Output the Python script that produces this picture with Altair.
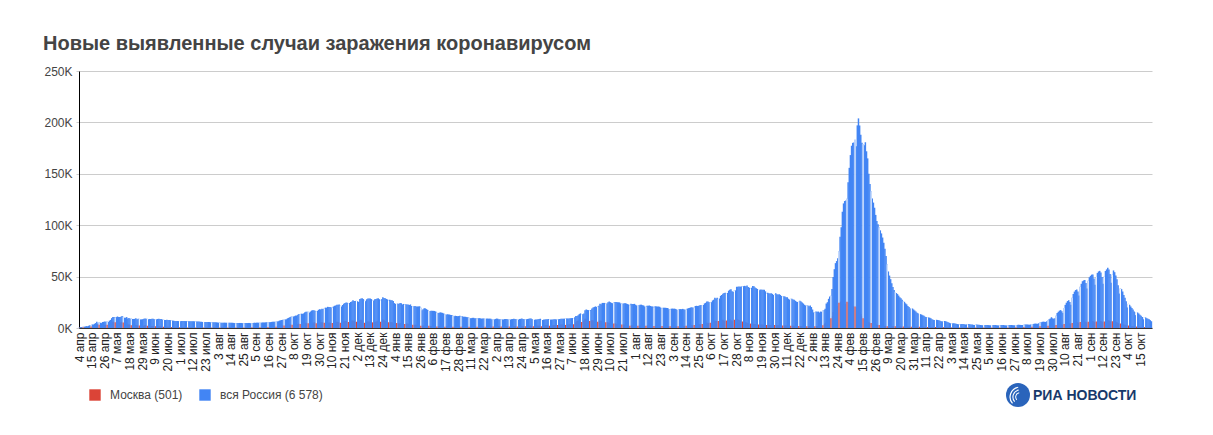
import altair as alt
import pandas as pd

TITLE = "Новые выявленные случаи заражения коронавирусом"
START_DATE = "2020-04-04"
MONTHS_RU = ["янв", "фев", "мар", "апр", "мая", "июн", "июл", "авг", "сен", "окт", "ноя", "дек"]
SERIES_NAMES = ["Москва", "вся Россия"]
SERIES_COLORS = ["#db4437", "#4285f4"]
Y_TICKS = [0, 50, 100, 150, 200, 250]
LABEL_STEP = 11
LOGO_TEXT = "РИА НОВОСТИ"

# daily new cases, thousands (4 Apr 2020 - 24 Oct 2022)
russia_2020 = [
    0.6, 0.7, 1.0, 1.2, 1.2, 1.5, 1.8, 1.7, 2.2, 2.6, 2.8, 3.4, 3.4, 4.1, 4.8, 6.1, 4.3, 5.6, 5.2, 4.8, 5.8, 6.0, 6.4, 6.2, 6.4, 5.8, 7.1,
    7.9, 9.6, 10.6, 10.6, 10.1, 10.6, 11.2, 10.7, 10.8, 11.0, 11.7, 10.9, 10.0, 10.0, 10.6, 9.2, 9.7, 8.9, 9.3, 8.8, 8.8, 8.9, 9.4, 8.6, 9.0, 8.9, 8.3, 8.4, 8.6, 9.0, 9.3,
    9.0, 8.9, 8.5, 8.8, 8.7, 8.9, 9.0, 8.6, 8.6, 8.4, 8.8, 9.0, 8.7, 8.8, 8.2, 8.2, 7.8, 7.8, 8.0, 7.9, 7.7, 7.6, 7.4, 7.2, 7.1, 6.8, 6.9, 6.8, 6.7, 6.7,
    6.6, 6.8, 6.8, 6.7, 6.7, 6.7, 6.4, 6.6, 6.5, 6.6, 6.6, 6.6, 6.5, 6.4, 6.4, 6.4, 6.3, 6.2, 6.1, 5.9, 5.8, 5.9, 5.8, 5.8, 5.9, 5.8, 5.6, 5.4, 5.5, 5.5, 5.5,
    5.5, 5.4, 5.2, 5.2, 5.2, 5.2, 5.2, 5.2, 5.2, 5.1, 4.9, 5.1, 5.1, 5.1, 5.1, 5.0, 4.8, 4.7, 4.8, 4.8, 4.9, 4.9, 4.9, 4.7, 4.7, 4.8, 4.8, 4.8, 4.9, 4.9, 4.7,
    4.7, 4.8, 5.0, 5.0, 5.2, 5.2, 5.2, 5.1, 5.1, 5.4, 5.4, 5.4, 5.5, 5.5, 5.5, 5.7, 5.7, 5.9, 6.1, 6.1, 6.1, 6.2, 6.4, 6.6, 7.2, 7.5, 7.9, 8.1, 8.1, 8.2,
    8.5, 9.4, 9.9, 10.5, 10.9, 11.6, 11.1, 11.5, 12.1, 12.1, 12.8, 13.6, 13.3, 13.9, 13.8, 14.2, 15.2, 15.7, 15.9, 15.7, 15.0, 16.0, 17.0, 17.3, 17.3, 16.7, 16.2, 16.6, 17.7, 18.3, 18.1,
    18.7, 18.6, 19.0, 19.8, 19.8, 20.6, 20.5, 20.4, 20.0, 19.8, 20.9, 21.6, 21.9, 22.7, 22.6, 22.8, 21.8, 20.9, 22.4, 23.6, 24.3, 24.8, 24.6, 24.0, 24.3, 25.3, 25.7, 27.1, 26.3, 26.3,
    26.4, 26.0, 25.3, 28.1, 28.8, 29.0, 28.1, 27.0, 26.1, 27.9, 28.6, 28.6, 28.6, 28.1, 26.4, 26.7, 27.9, 28.2, 28.6, 28.9, 28.0, 27.0, 28.0, 29.9, 29.3, 29.0, 28.3, 27.8, 26.5, 27.5, 27.0,
]
russia_2021 = [
    27.0, 26.3, 24.2, 23.4, 24.2, 23.5, 23.5, 24.2, 24.0, 22.9, 23.4, 22.9, 23.0, 22.8, 22.9, 22.4, 22.9, 21.4, 21.1, 21.1, 21.3, 21.0, 20.9, 21.0, 21.1, 19.8, 17.3, 18.2, 19.2, 19.1, 18.4,
    17.6, 16.6, 16.6, 16.8, 16.7, 16.7, 16.6, 16.0, 14.9, 14.5, 14.9, 15.2, 15.0, 14.7, 14.2, 13.4, 12.8, 13.4, 13.2, 13.1, 12.7, 12.6, 12.0, 11.5, 11.8, 11.7, 11.5, 11.6,
    11.8, 11.0, 11.4, 11.0, 11.0, 10.9, 10.6, 10.5, 10.0, 9.6, 9.6, 9.9, 9.9, 9.6, 9.4, 9.3, 9.4, 9.6, 9.4, 9.1, 9.3, 9.2, 8.8, 9.1, 9.2, 9.1, 9.1, 8.9, 8.3, 8.2, 8.3,
    8.8, 9.2, 9.0, 8.6, 8.6, 8.3, 8.3, 8.3, 8.7, 8.8, 8.7, 8.3, 8.3, 8.2, 8.6, 8.7, 9.0, 8.7, 8.5, 8.2, 8.1, 8.8, 8.9, 9.3, 8.7, 8.4, 8.3, 8.5, 8.8, 9.0,
    9.3, 9.3, 8.4, 7.8, 8.0, 8.3, 8.3, 8.4, 8.8, 8.9, 7.9, 7.8, 8.2, 8.3, 8.6, 8.5, 8.7, 8.0, 8.2, 8.2, 8.3, 8.4, 8.6, 8.3, 8.2, 8.5, 8.7, 8.9, 8.9, 9.1, 9.1,
    9.1, 9.3, 9.3, 9.3, 9.6, 9.6, 9.7, 9.6, 10.4, 11.6, 11.7, 12.5, 13.5, 14.2, 13.4, 13.4, 14.1, 17.3, 17.9, 17.6, 17.4, 16.7, 17.6, 19.0, 19.9, 20.5, 21.0, 20.5, 21.0, 21.7,
    23.5, 23.2, 24.4, 24.4, 24.4, 23.4, 23.9, 25.1, 25.8, 25.1, 24.5, 24.1, 24.7, 25.3, 25.2, 25.1, 25.0, 24.9, 23.9, 23.8, 23.7, 24.1, 24.1, 23.8, 23.3, 22.8, 22.2, 23.7, 23.3, 23.3, 23.5,
    22.6, 22.0, 21.4, 22.1, 22.5, 22.7, 22.2, 21.9, 21.0, 20.5, 21.6, 21.6, 21.9, 21.4, 21.0, 20.8, 20.0, 21.1, 21.0, 20.9, 20.9, 20.6, 19.6, 19.3, 19.6, 19.7, 19.7, 19.5, 19.4, 18.3, 18.1,
    18.8, 18.9, 18.8, 18.8, 18.6, 17.7, 17.5, 18.3, 18.4, 18.3, 18.6, 18.3, 17.8, 17.8, 18.8, 19.3, 19.6, 19.9, 20.1, 19.7, 19.9, 21.4, 21.6, 21.4, 21.6, 22.1, 22.3, 22.4, 22.4, 23.9,
    24.5, 25.7, 25.8, 25.1, 25.1, 25.1, 26.8, 27.5, 29.4, 28.6, 29.4, 28.2, 28.7, 31.3, 32.2, 33.2, 34.0, 34.3, 33.7, 34.1, 36.3, 37.1, 37.7, 35.7, 35.0, 36.4, 36.6, 40.1, 40.1, 40.3, 40.2,
    40.4, 40.4, 40.7, 41.0, 40.7, 41.3, 39.8, 39.2, 38.1, 39.2, 40.8, 40.7, 39.3, 38.6, 38.0, 37.8, 36.8, 37.4, 37.2, 37.1, 37.2, 35.7, 33.6, 34.3, 33.9, 33.6, 33.9, 33.2, 32.1, 32.9,
    33.9, 32.8, 32.6, 32.9, 32.2, 31.1, 30.8, 30.8, 30.6, 29.9, 29.8, 28.5, 27.6, 28.4, 28.4, 27.8, 27.4, 26.5, 25.7, 25.3, 26.2, 26.4, 25.7, 24.7, 23.8, 22.6, 21.9, 21.8, 22.0, 21.1, 21.9,
]
russia_2022 = [
    20.4, 18.0, 15.2, 15.3, 16.0, 15.8, 16.0, 15.1, 16.0, 15.8, 17.5, 17.5, 18.8, 23.8, 25.1, 28.4, 30.7, 31.3, 38.0, 49.5, 57.2, 63.1, 65.1, 67.8, 74.7, 88.8, 98.0, 113.1, 121.2, 123.5, 124.1,
    125.8, 141.9, 155.8, 168.2, 177.3, 180.1, 180.5, 183.1, 176.9, 197.1, 203.9, 197.0, 187.9, 180.1, 179.1, 177.8, 180.7, 171.9, 165.0, 150.0, 140.0, 133.0, 126.0, 122.0, 117.0, 110.0, 104.0, 101.0,
    98.0, 95.0, 92.0, 88.0, 83.0, 77.0, 70.0, 62.0, 55.0, 51.0, 47.5, 43.5, 40.0, 37.0, 35.0, 34.0, 33.0, 31.5, 30.0, 29.0, 27.5, 26.0, 25.5, 24.0, 23.0, 21.5, 20.5, 19.0, 18.5, 19.0, 18.0,
    17.0, 16.0, 14.8, 14.0, 13.6, 13.5, 13.0, 12.5, 11.8, 11.0, 10.6, 10.4, 10.3, 10.0, 9.4, 8.6, 8.0, 7.8, 7.8, 8.0, 7.8, 7.5, 7.0, 6.6, 6.4, 6.6, 6.8, 6.5, 6.1, 5.5,
    5.0, 4.6, 4.5, 4.5, 4.6, 4.4, 4.2, 3.8, 3.6, 3.5, 3.7, 3.9, 3.8, 3.6, 3.4, 3.5, 3.6, 3.8, 3.7, 3.5, 3.3, 3.1, 3.0, 3.2, 3.3, 3.2, 3.1, 2.9, 2.8, 2.7, 2.9,
    3.0, 3.0, 2.9, 2.8, 2.7, 2.6, 2.8, 2.9, 2.9, 2.8, 2.7, 2.6, 2.5, 2.7, 2.9, 2.9, 2.8, 2.7, 2.6, 2.5, 2.7, 2.9, 3.0, 2.9, 2.8, 2.7, 2.6, 2.8, 3.0, 3.1,
    3.1, 3.0, 2.9, 2.8, 3.1, 3.4, 3.5, 3.4, 3.3, 3.2, 3.4, 3.8, 4.0, 4.2, 4.3, 4.2, 4.1, 4.6, 5.3, 5.7, 6.0, 6.2, 6.0, 5.9, 6.6, 7.6, 8.4, 9.2, 10.5, 9.4, 9.1,
    9.5, 12.0, 14.6, 15.8, 16.9, 17.4, 16.2, 14.5, 19.5, 22.5, 24.6, 26.2, 27.0, 25.4, 22.7, 29.5, 33.1, 35.4, 36.9, 37.5, 35.6, 31.5, 40.1, 43.0, 45.5, 46.3, 46.7, 43.7, 38.5, 45.9, 49.4,
    50.8, 51.9, 52.1, 48.2, 42.0, 49.5, 53.6, 55.0, 55.6, 54.0, 49.5, 43.0, 50.0, 55.5, 57.0, 58.5, 56.8, 52.5, 44.0, 52.0, 56.0, 54.3, 51.0, 47.5, 41.5, 33.5, 38.5, 37.8, 35.5, 32.2,
    29.5, 26.0, 20.0, 23.5, 22.5, 21.0, 19.5, 18.0, 16.0, 12.5, 15.5, 15.0, 14.0, 13.0, 12.0, 10.8, 8.5, 10.5, 10.2, 9.6, 9.0, 8.4, 7.6, 6.578,
]
moscow_2020 = [
    0.5, 0.4, 0.5, 0.7, 0.6, 0.9, 1.1, 1.0, 1.4, 1.4, 1.4, 1.5, 1.4, 1.7, 2.6, 3.6, 2.6, 3.2, 2.8, 2.2, 3.1, 2.9, 3.1, 2.9, 3.2, 2.2, 3.0,
    3.6, 5.4, 6.0, 6.0, 5.6, 5.9, 6.7, 5.8, 5.7, 5.4, 6.2, 5.4, 4.7, 4.5, 4.8, 3.5, 3.5, 3.2, 2.7, 3.0, 2.6, 2.8, 2.9, 2.5, 2.4, 2.5, 2.1, 2.3, 2.3, 2.3, 2.6,
    2.6, 2.3, 1.8, 1.9, 1.9, 2.0, 2.0, 1.6, 1.6, 1.4, 1.6, 1.7, 1.5, 1.7, 1.2, 1.2, 1.1, 1.1, 1.1, 1.1, 1.0, 1.0, 0.9, 0.8, 0.8, 0.7, 0.7, 0.6, 0.7, 0.7,
    0.7, 0.7, 0.7, 0.7, 0.7, 0.7, 0.6, 0.6, 0.6, 0.7, 0.7, 0.7, 0.7, 0.6, 0.6, 0.6, 0.6, 0.6, 0.6, 0.6, 0.6, 0.6, 0.6, 0.7, 0.7, 0.7, 0.6, 0.6, 0.7, 0.7, 0.7,
    0.7, 0.7, 0.7, 0.6, 0.7, 0.7, 0.7, 0.7, 0.7, 0.7, 0.6, 0.7, 0.7, 0.7, 0.7, 0.7, 0.6, 0.6, 0.6, 0.7, 0.7, 0.7, 0.7, 0.6, 0.6, 0.6, 0.6, 0.7, 0.7, 0.7, 0.7,
    0.7, 0.7, 0.7, 0.7, 0.7, 0.7, 0.7, 0.7, 0.7, 0.8, 0.8, 0.8, 0.9, 0.9, 1.0, 1.0, 1.1, 1.1, 1.2, 1.3, 1.3, 1.3, 1.6, 1.8, 2.2, 2.3, 2.6, 2.4, 2.4, 2.4,
    2.4, 2.7, 3.0, 3.5, 3.2, 3.2, 3.2, 3.3, 3.8, 3.5, 3.9, 4.3, 4.0, 4.2, 4.6, 4.6, 4.8, 5.0, 4.6, 4.6, 4.1, 4.3, 4.5, 5.2, 5.4, 5.5, 4.5, 4.5, 5.3, 5.3, 5.6,
    5.5, 5.3, 5.1, 5.5, 5.5, 5.2, 5.2, 5.4, 4.9, 4.9, 5.5, 5.6, 5.8, 6.2, 5.9, 5.7, 5.0, 5.0, 6.0, 6.4, 6.9, 6.8, 6.7, 5.9, 6.3, 6.9, 7.2, 7.4, 6.9, 6.6,
    6.1, 6.3, 6.6, 7.6, 8.0, 7.5, 6.6, 5.1, 4.9, 6.1, 6.5, 6.2, 6.4, 5.6, 5.5, 5.4, 6.2, 6.2, 6.6, 7.3, 6.1, 6.1, 6.6, 8.2, 7.9, 6.7, 6.2, 5.6, 5.5, 5.7, 5.9,
]
moscow_2021 = [
    5.6, 5.0, 4.4, 4.4, 4.9, 4.5, 4.3, 4.7, 4.5, 4.5, 4.2, 4.0, 4.1, 4.3, 4.1, 3.8, 3.6, 3.5, 3.1, 3.0, 3.1, 3.1, 2.8, 2.8, 2.5, 2.2, 1.9, 2.4, 2.3, 2.5, 2.2,
    1.9, 2.1, 2.0, 2.0, 2.0, 2.0, 1.8, 1.6, 1.5, 1.6, 1.7, 1.8, 1.7, 1.6, 1.5, 1.3, 1.4, 1.4, 1.4, 1.4, 1.3, 1.3, 1.2, 1.0, 1.3, 1.4, 1.4, 1.4,
    1.4, 1.3, 1.4, 1.4, 1.4, 1.4, 1.3, 1.3, 1.1, 1.1, 1.3, 1.3, 1.3, 1.3, 1.2, 1.2, 1.3, 1.4, 1.4, 1.4, 1.4, 1.2, 1.3, 1.4, 1.5, 1.5, 1.5, 1.5, 1.2, 1.4, 1.5,
    1.6, 1.6, 1.7, 1.6, 1.3, 1.4, 1.5, 1.6, 1.6, 1.6, 1.6, 1.3, 1.4, 1.5, 1.6, 1.6, 1.6, 1.6, 1.4, 1.5, 1.5, 1.7, 1.7, 1.8, 1.8, 1.5, 1.6, 1.8, 2.1, 2.2,
    2.2, 2.1, 1.8, 1.6, 1.8, 2.1, 2.2, 2.2, 2.3, 2.3, 1.8, 1.9, 2.3, 2.5, 2.6, 2.7, 2.7, 2.3, 2.6, 2.6, 2.7, 2.9, 2.9, 2.6, 2.9, 3.1, 3.2, 3.3, 3.4, 3.4, 3.0,
    3.0, 3.3, 3.3, 3.5, 3.7, 3.7, 3.7, 3.7, 4.7, 5.6, 6.7, 7.2, 6.8, 6.7, 5.8, 6.4, 7.0, 9.1, 9.1, 8.6, 7.6, 6.8, 7.4, 7.9, 7.4, 7.2, 7.0, 6.2, 6.2, 7.1,
    7.3, 7.1, 7.0, 6.6, 5.4, 5.6, 5.8, 5.4, 5.1, 4.8, 4.5, 3.9, 4.3, 4.6, 4.2, 4.0, 3.7, 3.5, 3.2, 3.5, 3.3, 3.4, 3.0, 2.8, 2.6, 2.4, 2.3, 2.6, 2.7, 2.6, 2.5,
    2.3, 2.1, 2.1, 2.3, 2.4, 2.5, 2.4, 2.1, 1.9, 2.1, 2.4, 2.4, 2.3, 2.2, 2.0, 1.8, 2.0, 2.1, 2.1, 2.1, 1.9, 1.7, 1.7, 1.9, 2.0, 2.0, 1.9, 1.9, 1.7, 1.6, 1.7,
    2.0, 2.1, 2.1, 2.0, 1.8, 1.6, 1.7, 2.0, 2.2, 2.2, 2.2, 2.0, 1.9, 2.1, 2.6, 2.8, 2.9, 2.9, 2.6, 2.4, 2.8, 3.3, 3.7, 3.9, 3.6, 3.3, 3.3, 4.0, 4.6, 5.0,
    5.3, 5.1, 4.5, 4.8, 5.2, 5.7, 6.0, 6.9, 7.0, 6.9, 6.3, 6.8, 7.2, 7.2, 7.8, 8.1, 7.0, 6.4, 7.2, 8.0, 8.7, 8.6, 7.5, 6.6, 7.2, 8.0, 8.2, 8.7, 8.3, 7.9, 7.3,
    6.6, 6.3, 6.0, 5.9, 5.5, 5.0, 4.9, 4.4, 4.3, 4.0, 4.1, 4.0, 3.8, 3.5, 3.5, 3.4, 3.4, 3.3, 3.3, 3.2, 3.0, 2.9, 2.9, 2.9, 3.0, 2.8, 2.7, 2.5, 2.6, 2.8,
    2.8, 2.7, 2.7, 2.6, 2.5, 2.4, 2.5, 2.5, 2.4, 2.4, 2.3, 2.2, 2.1, 2.2, 2.3, 2.1, 2.1, 2.0, 1.9, 1.8, 1.9, 1.9, 1.9, 1.8, 1.8, 1.7, 1.7, 1.7, 1.7, 1.7, 1.8,
]
moscow_2022 = [
    1.8, 1.8, 1.6, 1.7, 1.8, 1.8, 1.8, 1.7, 1.8, 1.9, 2.6, 4.0, 4.6, 5.8, 6.5, 7.4, 8.6, 9.5, 11.5, 15.6, 17.6, 19.2, 19.4, 21.5, 24.5, 25.2, 26.0, 24.6, 24.0, 23.0, 23.5,
    25.5, 25.0, 24.5, 24.0, 22.6, 21.5, 21.0, 21.0, 20.2, 18.5, 17.0, 15.2, 13.6, 11.4, 9.6, 8.5, 8.0, 7.3, 6.4, 5.8, 5.2, 4.9, 4.0, 4.2, 4.0, 3.5, 3.2, 3.0,
    2.9, 2.8, 2.7, 2.6, 2.3, 2.0, 1.8, 1.7, 1.9, 2.2, 2.1, 1.9, 1.7, 1.6, 1.8, 1.9, 1.8, 1.7, 1.5, 1.4, 1.3, 1.5, 1.6, 1.5, 1.4, 1.3, 1.2, 1.1, 1.3, 1.4, 1.3,
    1.3, 1.2, 1.1, 1.0, 1.1, 1.2, 1.2, 1.1, 1.0, 0.9, 0.9, 1.0, 1.1, 1.0, 1.0, 0.9, 0.8, 0.8, 0.9, 0.9, 0.9, 0.9, 0.8, 0.8, 0.7, 0.8, 0.9, 0.9, 0.8, 0.7,
    0.7, 0.6, 0.6, 0.6, 0.7, 0.7, 0.6, 0.6, 0.5, 0.5, 0.5, 0.6, 0.6, 0.6, 0.5, 0.5, 0.6, 0.6, 0.6, 0.6, 0.5, 0.5, 0.5, 0.6, 0.6, 0.6, 0.6, 0.5, 0.5, 0.5, 0.6,
    0.6, 0.6, 0.6, 0.6, 0.5, 0.5, 0.6, 0.6, 0.6, 0.6, 0.5, 0.5, 0.5, 0.6, 0.6, 0.6, 0.6, 0.6, 0.5, 0.5, 0.6, 0.7, 0.7, 0.7, 0.7, 0.6, 0.6, 0.7, 0.8, 0.8,
    0.8, 0.8, 0.7, 0.7, 0.9, 1.0, 1.0, 1.0, 1.0, 0.9, 0.9, 1.2, 1.3, 1.4, 1.4, 1.4, 1.2, 1.3, 1.7, 1.9, 2.0, 2.0, 1.9, 1.7, 2.0, 2.3, 2.5, 2.6, 2.7, 2.6, 2.4,
    2.2, 2.8, 3.3, 3.5, 3.6, 3.6, 3.3, 2.9, 3.8, 4.3, 4.6, 4.8, 4.8, 4.4, 3.9, 4.9, 5.4, 5.6, 5.8, 5.8, 5.4, 4.8, 5.9, 6.3, 6.5, 6.5, 6.4, 5.9, 5.2, 6.2, 6.6,
    6.7, 6.8, 6.7, 6.2, 5.5, 6.3, 6.8, 7.0, 7.1, 6.8, 6.2, 5.4, 6.4, 7.1, 7.4, 7.7, 7.3, 6.6, 5.6, 6.6, 7.0, 6.7, 6.2, 5.6, 4.8, 3.9, 4.4, 4.2, 3.9, 3.5,
    3.1, 2.7, 2.0, 2.4, 2.2, 2.0, 1.8, 1.6, 1.4, 1.1, 1.4, 1.3, 1.2, 1.1, 1.0, 0.9, 0.7, 0.9, 0.9, 0.8, 0.8, 0.7, 0.6, 0.501,
]

russia = russia_2020 + russia_2021 + russia_2022
moscow = moscow_2020 + moscow_2021 + moscow_2022
if len(russia) != len(moscow):
    raise SystemExit(f"length mismatch: russia={len(russia)} moscow={len(moscow)}")

n = len(russia)
days = pd.date_range(START_DATE, periods=n, freq="D").strftime("%Y-%m-%d").tolist()


def fmt_int(v):
    return f"{int(round(v * 1000)):,}".replace(",", " ")


lab_msk = f"{SERIES_NAMES[0]} ({fmt_int(moscow[-1])})"
lab_ru = f"{SERIES_NAMES[1]} ({fmt_int(russia[-1])})"

df = pd.DataFrame({
    "day": days,
    "idx": list(range(n)),
    "ru": russia,
    "msk": moscow,
    "s_ru": [lab_ru] * n,
    "s_msk": [lab_msk] * n,
})

FONT = "Liberation Sans"
W, H = 1073, 257

months_js = "[" + ",".join(f"'{m}'" for m in MONTHS_RU) + "]"
x_label_expr = ("toNumber(slice(datum.value, 8, 10)) + ' ' + " + months_js +
                "[toNumber(slice(datum.value, 5, 7)) - 1]")

x_scale = alt.Scale(type="band", paddingInner=0, paddingOuter=0)
x_axis = alt.Axis(
    title=None, values=days[::LABEL_STEP], labelExpr=x_label_expr,
    labelAngle=270, labelFont=FONT, labelFontSize=12, labelColor="#222222",
    labelPadding=4, labelOverlap=False, ticks=False, grid=False,
    domainColor="#333333", domainWidth=1,
)
y_scale = alt.Scale(domain=[0, 250], nice=False)
y_axis = alt.Axis(
    title=None, values=Y_TICKS, labelExpr="datum.value + 'K'",
    labelFont=FONT, labelFontSize=12, labelColor="#444444", labelPadding=4,
    tickColor="#cccccc", tickSize=3, gridColor="#cccccc", gridWidth=1,
    domainColor="#000000", domainWidth=1,
)
color_scale = alt.Scale(domain=[lab_msk, lab_ru], range=SERIES_COLORS)
legend = alt.Legend(
    title=None, orient="none", legendX=10, legendY=318, direction="horizontal",
    symbolType="square", symbolSize=130, symbolStrokeWidth=0,
    labelFont=FONT, labelFontSize=12, labelColor="#444444", labelOffset=9,
    columnPadding=16, padding=0,
)

base = alt.Chart(df)

moscow_bars = base.mark_bar(width=alt.RelativeBandSize(1.3)).encode(
    x=alt.X("day:O", scale=x_scale, axis=x_axis),
    y=alt.Y("msk:Q", scale=y_scale, axis=y_axis),
    color=alt.Color("s_msk:N", scale=color_scale, legend=legend),
)
russia_bars = base.mark_bar(width=alt.RelativeBandSize(1.3)).encode(
    x=alt.X("day:O"),
    y=alt.Y("ru:Q"),
    color=alt.Color("s_ru:N", scale=color_scale, legend=legend),
)
gap_days = base.transform_filter("datum.idx % 7 == 3")
white_gaps = gap_days.mark_rule(color="white", strokeWidth=1.1).encode(
    x=alt.X("day:O"), y=alt.Y("ru:Q"), y2=alt.datum(0),
)
red_streaks = gap_days.mark_rule(color=SERIES_COLORS[0], strokeWidth=1.1).encode(
    x=alt.X("day:O"), y=alt.Y("msk:Q"), y2=alt.datum(0),
)

logo_df = pd.DataFrame({"t": [LOGO_TEXT]})
logo_disc = alt.Chart(logo_df).mark_arc(
    outerRadius=12, innerRadius=0, theta=0, theta2=6.2832, color="#2a64bb"
).encode(x=alt.value(939), y=alt.value(324))
logo_arcs = [
    alt.Chart(logo_df).mark_arc(
        outerRadius=ro, innerRadius=ri, theta=4.0, theta2=6.1, color="white"
    ).encode(x=alt.value(941), y=alt.value(326))
    for ro, ri in [(10.5, 9.3), (7.6, 6.5), (4.8, 3.8)]
]
logo_text = alt.Chart(logo_df).mark_text(
    align="left", baseline="alphabetic", font=FONT, fontSize=14,
    fontWeight="bold", color="#17396b",
).encode(x=alt.value(954), y=alt.value(329), text="t:N")

chart = alt.layer(
    moscow_bars, russia_bars, white_gaps, red_streaks, logo_disc, *logo_arcs, logo_text
).resolve_scale(color="shared").properties(
    width=W, height=H,
    title=alt.TitleParams(
        TITLE, anchor="start", frame="group", dx=-36, offset=11,
        font=FONT, fontSize=20, fontWeight="bold", color="#444444",
    ),
    autosize=alt.AutoSizeParams(type="none"),
    padding={"left": 71, "top": 63, "right": 53, "bottom": 99},
).configure_view(stroke=None)

chart.save("out.html", embed_options={"renderer": "svg", "actions": False})
